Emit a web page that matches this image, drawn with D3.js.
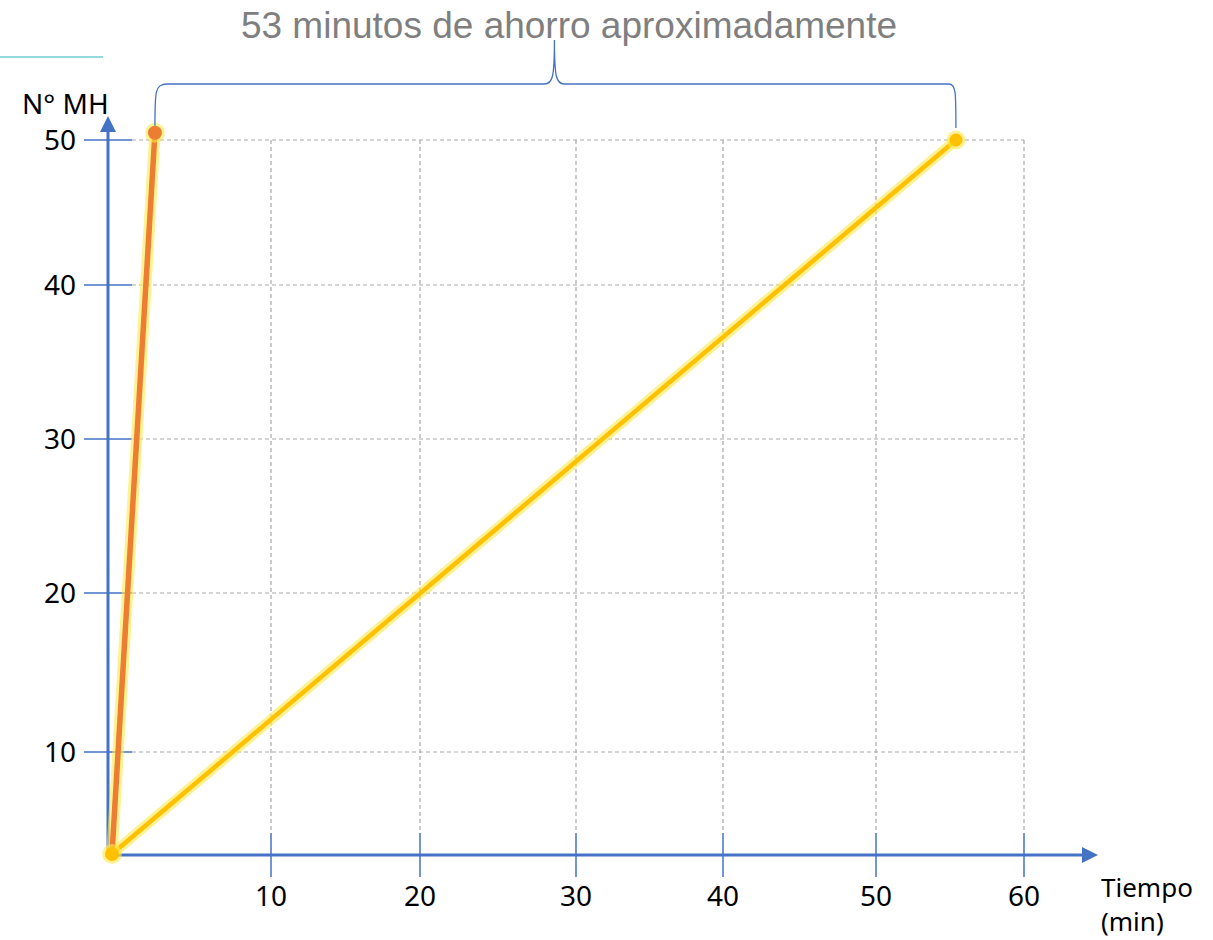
<!DOCTYPE html>
<html><head><meta charset="utf-8">
<script src="https://cdn.jsdelivr.net/npm/d3@7"></script>
<style>body{margin:0;background:#fff}svg{display:block}</style>
</head><body>
<svg id="c" width="1213" height="940"></svg>
<script>
// data
const xTicks = [10, 20, 30, 40, 50, 60];
const yTicks = [10, 20, 30, 40, 50];
const seriesOrange = [{t: 0, mh: 0}, {t: 2.7, mh: 50.5}];
const seriesYellow = [{t: 0, mh: 0}, {t: 55.4, mh: 50}];
const title = "53 minutos de ahorro aproximadamente";
const yLabel = "N° MH";
const xLabel = ["Tiempo", "(min)"];

const svg = d3.select("#c");
const blue = "#4472c4";
const font = "'Noto Sans', 'Open Sans', sans-serif";
const fs = 28;

// hand-drawn looking axes: piecewise scales
const x = d3.scaleLinear().domain([0, 10, 20, 30, 40, 50, 60]).range([112, 271, 420, 576, 723, 876, 1024]);
const y = d3.scaleLinear().domain([0, 10, 20, 30, 40, 50]).range([854, 752, 593, 439, 285, 140]);

// teal decoration line
svg.append("line").attr("x1", 0).attr("x2", 103).attr("y1", 57).attr("y2", 57)
  .attr("stroke", "#6fcfd0").attr("stroke-width", 1.5);

// grid
const g = svg.append("g");
g.selectAll(".vg").data(xTicks).join("line")
  .attr("x1", d => x(d)).attr("x2", d => x(d)).attr("y1", y(50)).attr("y2", 833)
  .attr("stroke", "#a9a9a9").attr("stroke-width", 1.2).attr("stroke-dasharray", "4,3");
g.selectAll(".hg").data(yTicks).join("line")
  .attr("x1", 132).attr("x2", x(60)).attr("y1", d => y(d)).attr("y2", d => y(d))
  .attr("stroke", "#a9a9a9").attr("stroke-width", 1.2).attr("stroke-dasharray", "4,3");

// tick marks
g.selectAll(".xt").data(xTicks).join("line")
  .attr("x1", d => x(d)).attr("x2", d => x(d)).attr("y1", 833).attr("y2", 877)
  .attr("stroke", blue).attr("stroke-width", 1.5);
g.selectAll(".yt").data(yTicks).join("line")
  .attr("x1", 84).attr("x2", 132).attr("y1", d => y(d)).attr("y2", d => y(d))
  .attr("stroke", blue).attr("stroke-width", 1.5);

// axes with arrows
svg.append("line").attr("x1", 107).attr("x2", 1084).attr("y1", 855).attr("y2", 855)
  .attr("stroke", blue).attr("stroke-width", 3);
svg.append("path").attr("d", "M1082,847 L1098,855 L1082,863 Z").attr("fill", blue);
svg.append("line").attr("x1", 108).attr("x2", 108).attr("y1", 856).attr("y2", 128)
  .attr("stroke", blue).attr("stroke-width", 3);
svg.append("path").attr("d", "M100,132 L108,116 L116,132 Z").attr("fill", blue);

// tick labels
svg.selectAll(".xl").data(xTicks).join("text")
  .attr("x", d => x(d)).attr("y", 906).attr("text-anchor", "middle")
  .attr("font-family", font).attr("font-size", fs).attr("fill", "#000").text(d => d);
svg.selectAll(".yl").data(yTicks).join("text")
  .attr("x", 76).attr("y", d => y(d) + 10).attr("text-anchor", "end")
  .attr("font-family", font).attr("font-size", fs).attr("fill", "#000").text(d => d);

// axis titles
svg.append("text").attr("x", 22).attr("y", 114).attr("font-family", font)
  .attr("font-size", fs).attr("fill", "#000").text(yLabel);
const xt = svg.append("text").attr("font-family", font).attr("font-size", 26).attr("fill", "#000");
xt.append("tspan").attr("x", 1101).attr("y", 897).text(xLabel[0]);
xt.append("tspan").attr("x", 1101).attr("y", 931).text(xLabel[1]);

// series
const line = d3.line().x(d => x(d.t)).y(d => y(d.mh));
function drawSeries(data, color, w) {
  svg.append("path").datum(data).attr("d", line).attr("fill", "none")
    .attr("stroke", "#ffe94d").attr("stroke-opacity", 0.6).attr("stroke-width", w + 6).attr("stroke-linecap", "round");
  svg.append("path").datum(data).attr("d", line).attr("fill", "none")
    .attr("stroke", color).attr("stroke-width", w).attr("stroke-linecap", "round");
}
drawSeries(seriesYellow, "#ffc000", 4.5);
drawSeries(seriesOrange, "#ed7d31", 5.5);

// markers
function marker(d, color, r) {
  svg.append("circle").attr("cx", x(d.t)).attr("cy", y(d.mh)).attr("r", r + 3)
    .attr("fill", "#ffe94d").attr("fill-opacity", 0.6);
  svg.append("circle").attr("cx", x(d.t)).attr("cy", y(d.mh)).attr("r", r).attr("fill", color);
}
marker(seriesYellow[1], "#ffc000", 6.5);
marker(seriesYellow[0], "#ffc000", 7);
marker(seriesOrange[1], "#ed7d31", 7);

// brace
const bx0 = x(seriesOrange[1].t), bx1 = x(seriesYellow[1].t);
const bm = (bx0 + bx1) / 2 - 1;
const by = 84;
const bracePath = d3.path();
bracePath.moveTo(bx0, y(seriesOrange[1].mh) - 7);
bracePath.bezierCurveTo(bx0, by + 8, bx0, by, bx0 + 12, by);
bracePath.lineTo(bm - 10, by);
bracePath.bezierCurveTo(bm - 2, by, bm, by - 6, bm, 40);
bracePath.bezierCurveTo(bm, by - 6, bm + 2, by, bm + 10, by);
bracePath.lineTo(bx1 - 7, by);
bracePath.bezierCurveTo(bx1, by, bx1, by + 8, bx1, y(seriesYellow[1].mh) - 12);
svg.append("path").attr("d", bracePath.toString()).attr("fill", "none")
  .attr("stroke", blue).attr("stroke-width", 1.3);

// title
svg.append("text").attr("x", 569).attr("y", 38).attr("text-anchor", "middle")
  .attr("font-family", "'Liberation Sans', Arial, sans-serif").attr("font-size", 37)
  .attr("fill", "#7f7f7f").text(title);
</script>
</body></html>
